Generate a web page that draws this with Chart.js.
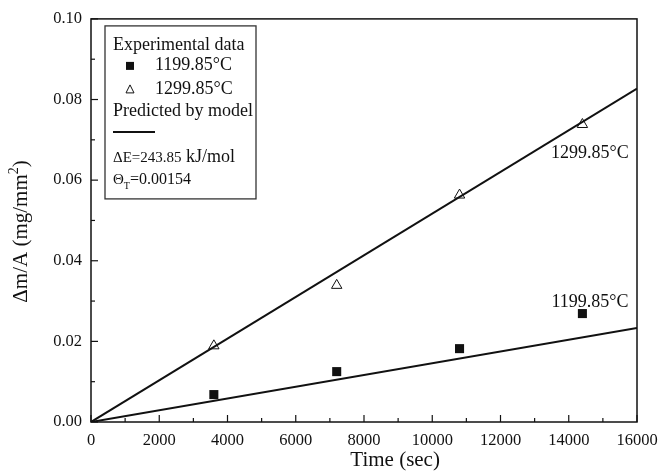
<!DOCTYPE html>
<html>
<head>
<meta charset="utf-8">
<script src="https://cdn.jsdelivr.net/npm/chart.js@4"></script>
<style>
  html, body { margin: 0; padding: 0; background: #fff; }
  #wrap { width: 662px; height: 475px; }
</style>
</head>
<body>
<div id="wrap"><canvas id="c"></canvas></div>
<script>
// ---- data ----
const times        = [3600, 7200, 10800, 14400];
const mass1199     = [0.0068, 0.0125, 0.0182, 0.0269];
const mass1299     = [0.0189, 0.0339, 0.0563, 0.0738];
const modelTimes   = [0, 16000];
const model1199    = [0, 0.0233];
const model1299    = [0, 0.0827];
const xTickLabels  = ['0', '2000', '4000', '6000', '8000', '10000', '12000', '14000', '16000'];
const yTickLabels  = ['0.00', '0.02', '0.04', '0.06', '0.08', '0.10'];

const SERIF = '"Liberation Serif", "DejaVu Serif", serif';
const INK = '#111';

const pts = (xs, ys) => xs.map((x, i) => ({ x, y: ys[i] }));

// inward ticks, box frame, axis titles, legend box and curve labels
const decor = {
  id: 'decor',
  afterDraw(chart) {
    const { ctx, chartArea: a, scales: { x, y } } = chart;
    ctx.save();
    ctx.strokeStyle = INK;
    ctx.lineWidth = 1.5;
    ctx.strokeRect(a.left, a.top, a.right - a.left, a.bottom - a.top);

    // ticks (major 7px, minor 4px) pointing into the plot
    ctx.lineWidth = 1.2;
    x.ticks.forEach(t => {
      const px = x.getPixelForValue(t.value);
      const len = t.value % 2000 === 0 ? 7 : 4;
      ctx.beginPath(); ctx.moveTo(px, a.bottom); ctx.lineTo(px, a.bottom - len); ctx.stroke();
    });
    y.ticks.forEach(t => {
      const py = y.getPixelForValue(t.value);
      const len = Math.round(t.value * 100) % 2 === 0 ? 7 : 4;
      ctx.beginPath(); ctx.moveTo(a.left, py); ctx.lineTo(a.left + len, py); ctx.stroke();
    });

    // axis titles
    ctx.fillStyle = INK;
    ctx.font = '21px ' + SERIF;
    ctx.textAlign = 'center';
    ctx.textBaseline = 'alphabetic';
    ctx.fillText('Time (sec)', a.left + (a.right - a.left) * 0.557, 466);

    ctx.save();
    ctx.translate(27, (a.top + a.bottom) / 2 + 11);
    ctx.rotate(-Math.PI / 2);
    const main = '\u0394m/A (mg/mm', tail = ')';
    ctx.font = '21px ' + SERIF;
    const wMain = ctx.measureText(main).width, wTail = ctx.measureText(tail).width;
    ctx.font = '14px ' + SERIF;
    const wSup = ctx.measureText('2').width;
    const x0 = -(wMain + wSup + wTail) / 2;
    ctx.textAlign = 'left';
    ctx.font = '21px ' + SERIF;
    ctx.fillText(main, x0, 0);
    ctx.fillText(tail, x0 + wMain + wSup, 0);
    ctx.font = '14px ' + SERIF;
    ctx.fillText('2', x0 + wMain, -9);
    ctx.restore();

    // labels next to the curves
    ctx.textAlign = 'center';
    ctx.font = '18px ' + SERIF;
    ctx.fillText('1299.85\u00B0C', x.getPixelForValue(14620), y.getPixelForValue(0.0655));
    ctx.fillText('1199.85\u00B0C', x.getPixelForValue(14620), y.getPixelForValue(0.0285));

    // legend box
    const L = a.left + 14, T = a.top + 7;
    ctx.fillStyle = '#fff';
    ctx.fillRect(L, T, 151, 173);
    ctx.strokeStyle = '#333';
    ctx.lineWidth = 1.3;
    ctx.strokeRect(L, T, 151, 173);

    ctx.fillStyle = INK;
    ctx.textAlign = 'left';
    ctx.font = '18px ' + SERIF;
    ctx.fillText('Experimental data', L + 8, T + 24);
    ctx.fillRect(L + 21, T + 36, 8, 8);
    ctx.fillText('1199.85\u00B0C', L + 50, T + 44);
    ctx.lineWidth = 1;
    ctx.strokeStyle = INK;
    ctx.beginPath();
    ctx.moveTo(L + 25, T + 59); ctx.lineTo(L + 29, T + 67); ctx.lineTo(L + 21, T + 67); ctx.closePath();
    ctx.stroke();
    ctx.fillText('1299.85\u00B0C', L + 50, T + 68);
    ctx.fillText('Predicted by model', L + 8, T + 90);
    ctx.lineWidth = 2;
    ctx.beginPath(); ctx.moveTo(L + 8, T + 106); ctx.lineTo(L + 50, T + 106); ctx.stroke();

    ctx.font = '15px ' + SERIF;
    ctx.fillText('\u0394E=243.85', L + 8, T + 136);
    let w = ctx.measureText('\u0394E=243.85').width;
    ctx.font = '18px ' + SERIF;
    ctx.fillText(' kJ/mol', L + 8 + w, T + 136);

    ctx.font = '15px ' + SERIF;
    ctx.fillText('\u0398', L + 8, T + 158);
    w = ctx.measureText('\u0398').width;
    ctx.font = '10px ' + SERIF;
    ctx.fillText('T', L + 8 + w, T + 163);
    const w2 = ctx.measureText('T').width;
    ctx.font = '16px ' + SERIF;
    ctx.fillText('=0.00154', L + 8 + w + w2, T + 158);
    ctx.restore();
  }
};

new Chart(document.getElementById('c'), {
  type: 'scatter',
  data: {
    datasets: [
      { label: 'model 1299.85', type: 'line', data: pts(modelTimes, model1299), borderColor: INK, borderWidth: 2, pointRadius: 0, fill: false },
      { label: 'model 1199.85', type: 'line', data: pts(modelTimes, model1199), borderColor: INK, borderWidth: 2, pointRadius: 0, fill: false },
      { label: '1199.85°C', data: pts(times, mass1199), pointStyle: 'rect', pointRadius: 6.4, backgroundColor: INK, borderColor: INK, borderWidth: 0 },
      { label: '1299.85°C', data: pts(times, mass1299), pointStyle: 'triangle', pointRadius: 6, backgroundColor: 'rgba(0,0,0,0)', borderColor: INK, borderWidth: 1 }
    ]
  },
  options: {
    responsive: true,
    maintainAspectRatio: false,
    animation: false,
    layout: { padding: { left: 0, right: 25, top: 16, bottom: 0 } },
    plugins: { legend: { display: false }, tooltip: { enabled: false } },
    scales: {
      x: {
        type: 'linear', min: 0, max: 16000,
        grid: { display: false, drawTicks: true, tickLength: 9 },
        border: { display: false },
        ticks: {
          stepSize: 1000, maxRotation: 0, autoSkip: false, padding: 0,
          color: INK, font: { family: SERIF, size: 16.5 },
          callback: v => (v % 2000 === 0 ? xTickLabels[v / 2000] : '')
        },
        afterFit: s => { s.height = 53; }
      },
      y: {
        type: 'linear', min: 0, max: 0.1,
        grid: { display: false, drawTicks: false },
        border: { display: false },
        ticks: {
          stepSize: 0.01, autoSkip: false, padding: 9,
          color: INK, font: { family: SERIF, size: 16.5 },
          callback: v => { const k = Math.round(v * 100); return k % 2 === 0 ? yTickLabels[k / 2] : ''; }
        },
        afterFit: s => { s.width = 91; }
      }
    }
  },
  plugins: [decor]
});
</script>
</body>
</html>
